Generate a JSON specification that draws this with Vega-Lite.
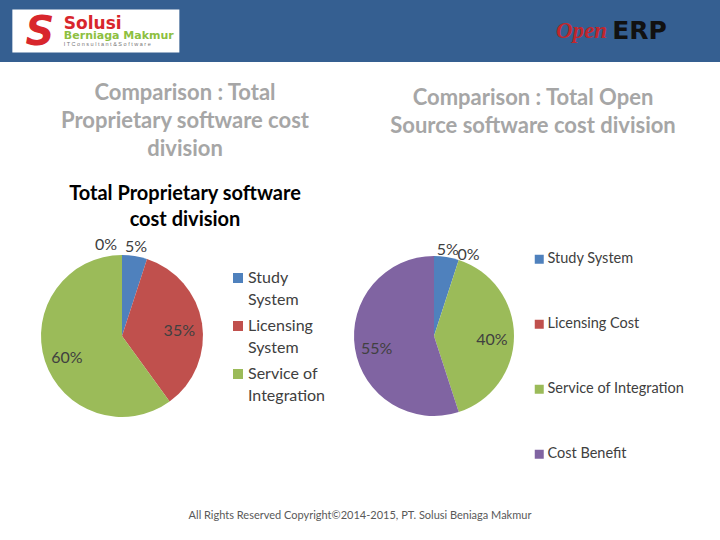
{
  "$schema": "https://vega.github.io/schema/vega-lite/v6.json",
  "background": "white",
  "padding": 0,
  "bounds": "flush",
  "spacing": 178,
  "config": {"view": {"stroke": null}, "font": "Lato", "style": {"guide-label": {"lineHeight": 22}}},
  "vconcat": [
    {
      "width": 720,
      "height": 62,
      "view": {"fill": "#355F91", "stroke": null},
      "encoding": {
        "x": {"field": "side", "type": "nominal", "scale": {"type": "point", "domain": ["left", "right"], "padding": 0.2}, "axis": null},
        "y": {"datum": "logo", "type": "nominal", "scale": {"type": "point", "domain": ["logo"], "padding": 0.5}, "axis": null}
      },
      "layer": [
        {
          "data": {"values": [{"side": "left"}]},
          "mark": {"type": "rect", "width": 167, "height": 43, "fill": "white", "xOffset": -7}
        },
        {
          "data": {"values": [{"side": "left", "t": "S"}]},
          "mark": {"type": "text", "fontSize": 40, "fontWeight": "bold", "fontStyle": "italic", "fill": "#D8262C", "font": "DejaVu Sans", "dx": -63, "dy": 2},
          "encoding": {"text": {"field": "t", "type": "nominal"}}
        },
        {
          "data": {"values": [{"side": "left", "t": "Solusi"}]},
          "mark": {"type": "text", "fontSize": 17, "fontWeight": "bold", "fill": "#D8262C", "font": "DejaVu Sans", "align": "left", "dx": -39, "dy": -7},
          "encoding": {"text": {"field": "t", "type": "nominal"}}
        },
        {
          "data": {"values": [{"side": "left", "t": "Berniaga Makmur"}]},
          "mark": {"type": "text", "fontSize": 11, "fontWeight": "bold", "fill": "#8DBF3F", "font": "DejaVu Sans", "align": "left", "dx": -39, "dy": 5},
          "encoding": {"text": {"field": "t", "type": "nominal"}}
        },
        {
          "data": {"values": [{"side": "left", "t": "I T  C o n s u l t a n t  &  S o f t w a r e"}]},
          "mark": {"type": "text", "fontSize": 5.5, "fill": "#777777", "font": "Liberation Sans", "align": "left", "dx": -39, "dy": 13},
          "encoding": {"text": {"field": "t", "type": "nominal"}}
        },
        {
          "data": {"values": [{"side": "right", "t": "Open"}]},
          "mark": {"type": "text", "fontSize": 23, "fontWeight": "bold", "fontStyle": "italic", "fill": "#C0272D", "font": "Liberation Serif", "align": "right", "dx": -10, "dy": 0},
          "encoding": {"text": {"field": "t", "type": "nominal"}}
        },
        {
          "data": {"values": [{"side": "right", "t": "ERP"}]},
          "mark": {"type": "text", "fontSize": 25, "fontWeight": "bold", "fill": "#111111", "font": "DejaVu Sans", "align": "left", "dx": -5, "dy": 0},
          "encoding": {"text": {"field": "t", "type": "nominal"}}
        }
      ]
    },
    {
      "bounds": "flush",
      "spacing": 0,
      "resolve": {"scale": {"color": "independent", "theta": "independent"}, "legend": {"color": "independent"}},
      "hconcat": [
        {
          "width": 244,
          "height": 192,
          "title": {
            "text": ["Comparison : Total", "Proprietary software cost", "division"],
            "subtitle": ["Total Proprietary software", "cost division"],
            "color": "#A6A6A6", "fontSize": 22, "fontWeight": "bold", "font": "Lato", "lineHeight": 28,
            "subtitleColor": "#000000", "subtitleFontSize": 20, "subtitleFontWeight": "bold", "subtitleFont": "Lato", "subtitleLineHeight": 26, "subtitlePadding": 23,
            "anchor": "middle", "frame": "group", "dx": 63, "offset": 6
          },
          "data": {"values": [
            {"item": "Study System", "share": 0.05, "k": 1},
            {"item": "Licensing System", "share": 0.35, "k": 2},
            {"item": "Service of Integration", "share": 0.60, "k": 3},
            {"item": "Cost Benefit", "share": 0.0, "k": 4}
          ]},
          "encoding": {
            "theta": {"field": "share", "type": "quantitative", "stack": true},
            "order": {"field": "k", "type": "quantitative"},
            "color": {
              "field": "item", "type": "nominal",
              "scale": {"domain": ["Study System", "Licensing System", "Service of Integration", "Cost Benefit"], "range": ["#4F81BD", "#C0504D", "#9BBB59", "#8064A2"]},
              "legend": {"orient": "none", "legendX": 230, "legendY": 30, "title": null, "values": ["Study System", "Licensing System", "Service of Integration"], "symbolType": "square", "symbolSize": 100, "symbolStrokeWidth": 0, "labelFontSize": 16, "labelColor": "#404040", "labelFont": "Lato", "labelLimit": 0, "labelOffset": 2, "rowPadding": 10, "labelExpr": "datum.label == 'Service of Integration' ? ['Service of', 'Integration'] : split(datum.label, ' ')"}
            }
          },
          "layer": [
            {"mark": {"type": "arc", "outerRadius": 81}},
            {
              "mark": {"type": "text", "radius": 58, "fontSize": 16, "font": "Lato", "dy": 4},
              "encoding": {"text": {"field": "share", "type": "quantitative", "format": ".0%"}, "color": {"value": "#404040"}, "opacity": {"condition": {"test": "datum.share >= 0.2", "value": 1}, "value": 0}}
            },
            {
              "mark": {"type": "text", "radius": 90, "fontSize": 16, "font": "Lato"},
              "encoding": {"text": {"field": "share", "type": "quantitative", "format": ".0%"}, "color": {"value": "#404040"}, "opacity": {"condition": {"test": "datum.share > 0 && datum.share < 0.2", "value": 1}, "value": 0}}
            },
            {
              "mark": {"type": "text", "radius": 91, "fontSize": 16, "font": "Lato", "dx": -16},
              "encoding": {"text": {"field": "share", "type": "quantitative", "format": ".0%"}, "color": {"value": "#404040"}, "opacity": {"condition": {"test": "datum.share == 0", "value": 1}, "value": 0}}
            }
          ]
        },
        {
          "width": 380,
          "height": 192,
          "title": {"text": ["Comparison : Total Open", "Source software cost division"], "color": "#A6A6A6", "fontSize": 22, "fontWeight": "bold", "font": "Lato", "lineHeight": 28, "anchor": "middle", "frame": "group", "dx": 99, "offset": 102},
          "data": {"values": [
            {"item": "Study System", "share": 0.05, "k": 1},
            {"item": "Licensing Cost", "share": 0.0, "k": 2},
            {"item": "Service of Integration", "share": 0.40, "k": 3},
            {"item": "Cost Benefit", "share": 0.55, "k": 4}
          ]},
          "encoding": {
            "theta": {"field": "share", "type": "quantitative", "stack": true},
            "order": {"field": "k", "type": "quantitative"},
            "color": {
              "field": "item", "type": "nominal",
              "scale": {"domain": ["Study System", "Licensing Cost", "Service of Integration", "Cost Benefit"], "range": ["#4F81BD", "#C0504D", "#9BBB59", "#8064A2"]},
              "legend": {"orient": "none", "legendX": 288, "legendY": 12, "title": null, "symbolType": "square", "symbolSize": 81, "symbolStrokeWidth": 0, "labelFontSize": 14.5, "labelColor": "#404040", "labelFont": "Lato", "labelLimit": 0, "labelOffset": 1, "rowPadding": 50}
            }
          },
          "layer": [
            {"mark": {"type": "arc", "outerRadius": 80}},
            {
              "mark": {"type": "text", "radius": 58, "fontSize": 16, "font": "Lato", "dy": 4},
              "encoding": {"text": {"field": "share", "type": "quantitative", "format": ".0%"}, "color": {"value": "#404040"}, "opacity": {"condition": {"test": "datum.share >= 0.2", "value": 1}, "value": 0}}
            },
            {
              "mark": {"type": "text", "radius": 88, "fontSize": 16, "font": "Lato", "dy": 1},
              "encoding": {"text": {"field": "share", "type": "quantitative", "format": ".0%"}, "color": {"value": "#404040"}, "opacity": {"condition": {"test": "datum.share > 0 && datum.share < 0.2", "value": 1}, "value": 0}}
            },
            {
              "mark": {"type": "text", "radius": 89, "fontSize": 16, "font": "Lato", "dx": 7, "dy": 4},
              "encoding": {"text": {"field": "share", "type": "quantitative", "format": ".0%"}, "color": {"value": "#404040"}, "opacity": {"condition": {"test": "datum.share == 0", "value": 1}, "value": 0}}
            }
          ]
        }
      ]
    },
    {
      "width": 720,
      "height": 194,
      "data": {"values": [{"note": "All Rights Reserved Copyright©2014-2015, PT. Solusi Beniaga Makmur"}]},
      "mark": {"type": "text", "fontSize": 11, "fill": "#595959", "font": "Lato", "dy": 1},
      "encoding": {"text": {"field": "note", "type": "nominal"}}
    }
  ]
}
